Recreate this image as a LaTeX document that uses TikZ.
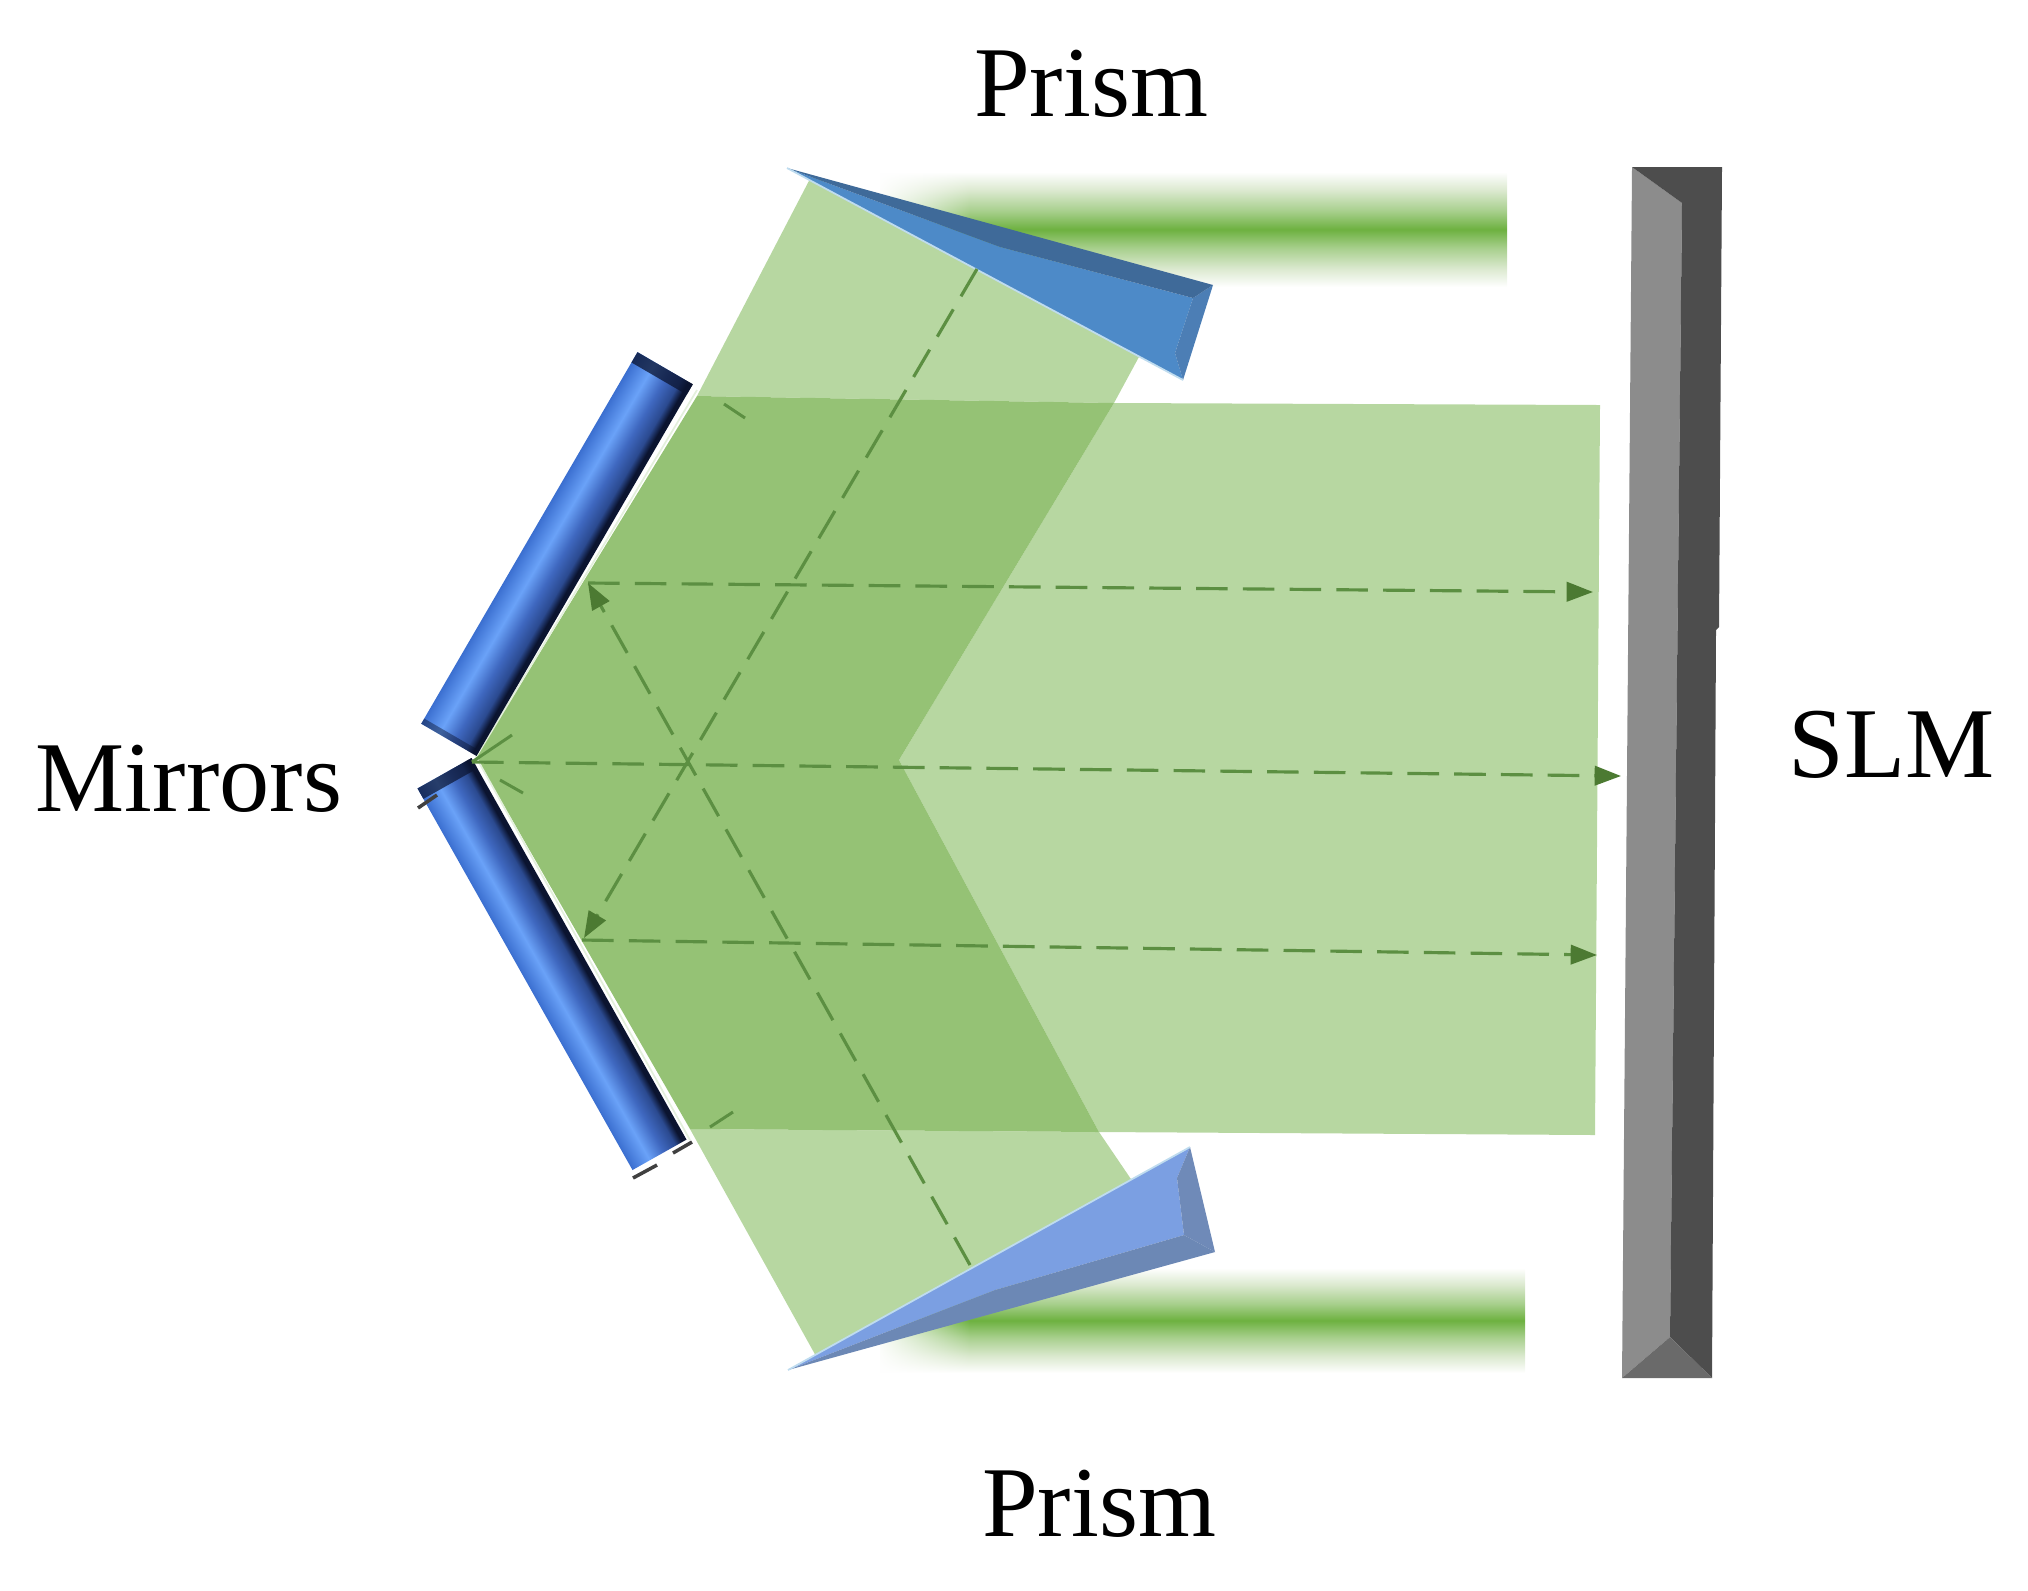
\documentclass[tikz,border=0pt]{standalone}
\usepackage{fontspec}
\usepackage{xcolor}
\setmainfont{Liberation Serif}
\usetikzlibrary{arrows.meta,fadings}
\definecolor{beamlight}{HTML}{B7D7A1}
\definecolor{beamdark}{HTML}{95C275}
\definecolor{raygreen}{HTML}{5C8F42}
\definecolor{tipgreen}{HTML}{4C7A32}
\definecolor{barpale}{HTML}{DBE9CF}
\definecolor{barsoft}{HTML}{A7CF8C}
\definecolor{barmid}{HTML}{6DB140}
\definecolor{halo}{HTML}{BFDCEF}
\definecolor{mirroredge}{HTML}{3B6FD0}
\definecolor{mirrorlit}{HTML}{6AA2F8}
\definecolor{mirrorbody}{HTML}{3F68C0}
\definecolor{mirrorlow}{HTML}{2B4A90}
\definecolor{mirrorblack}{HTML}{0B1430}
\pgfdeclareverticalshading{barfade}{100bp}{color(0bp)=(white); color(25bp)=(white); color(33bp)=(barpale); color(42bp)=(barsoft); color(50bp)=(barmid); color(58bp)=(barsoft); color(67bp)=(barpale); color(75bp)=(white); color(100bp)=(white)}
\pgfdeclarehorizontalshading{mirrorfade}{100bp}{color(0bp)=(mirroredge); color(25bp)=(mirroredge); color(41bp)=(mirrorlit); color(54bp)=(mirrorbody); color(65bp)=(mirrorlow); color(71bp)=(mirrorblack); color(100bp)=(mirrorblack)}
\begin{document}
\begin{tikzpicture}[x=0.01cm,y=-0.01cm,
        label/.style={font=\fontsize{28.5}{32}\selectfont,anchor=base,inner sep=0pt},
        ray/.style={draw=raygreen,line width=0.9pt,dash pattern=on 9pt off 4.3pt},
        rayend/.style={ray,-{Triangle[length=7.5pt,width=5.5pt,color=tipgreen]}},
        stub/.style={draw=black!75,line width=1pt}]
    \useasboundingbox (0,0) rectangle (2028,1590);

    \shade[shading=barfade] (880,172) rectangle (1507,287);
    \shade[shading=barfade] (880,1268) rectangle (1525,1373);
    \fill[white,path fading=east] (875,165) rectangle (970,295);
    \fill[white,path fading=east] (875,1260) rectangle (970,1380);

    \coordinate (ua) at (812,175);
    \coordinate (ub) at (1140,355);
    \coordinate (uc) at (1114,403);
    \coordinate (ud) at (697,396);
    \coordinate (ve) at (1600,405);
    \coordinate (vf) at (1595,1135);
    \coordinate (vg) at (899,760);
    \coordinate (la) at (1099,1132);
    \coordinate (lb) at (1135,1185);
    \coordinate (lc) at (817,1358);
    \coordinate (ld) at (690,1129);
    \coordinate (vm) at (476,757);

    \fill[beamlight] (ua) -- (ub) -- (uc) -- (ud) -- cycle;
    \fill[beamlight] (uc) -- (ve) -- (vf) -- (la) -- (vg) -- cycle;
    \fill[beamlight] (la) -- (lb) -- (lc) -- (ld) -- cycle;
    \fill[beamdark] (ud) -- (uc) -- (vg) -- (la) -- (ld) -- (vm) -- cycle;

    \coordinate (pa) at (787,168);
    \coordinate (pb) at (1213,285);
    \coordinate (pc) at (1183,380);
    \coordinate (pd) at (1193,298);
    \coordinate (pe) at (1175,353);
    \coordinate (pf) at (1000,247);
    \fill[fill={rgb,255:red,77;green,138;blue,200}] (pa) -- (pf) -- (pd) -- (pe) -- (pc) -- cycle;
    \fill[fill={rgb,255:red,76;green,126;blue,181}] (pb) -- (pc) -- (pe) -- (pd) -- cycle;
    \fill[fill={rgb,255:red,63;green,106;blue,153}] (pa) -- (pb) -- (pd) -- (pf) -- cycle;
    \draw[halo,line width=0.5pt] (pa) -- (pc);

    \coordinate (qa) at (788,1370);
    \coordinate (qb) at (1190,1147);
    \coordinate (qc) at (1215,1252);
    \coordinate (qd) at (1177,1178);
    \coordinate (qe) at (1184,1235);
    \coordinate (qf) at (995,1290);
    \fill[fill={rgb,255:red,123;green,159;blue,226}] (qa) -- (qb) -- (qd) -- (qe) -- (qf) -- cycle;
    \fill[fill={rgb,255:red,111;green,138;blue,184}] (qb) -- (qc) -- (qe) -- (qd) -- cycle;
    \fill[fill={rgb,255:red,108;green,136;blue,181}] (qa) -- (qc) -- (qe) -- (qf) -- cycle;
    \draw[halo,line width=0.5pt] (qa) -- (qb);

    \draw[white!75!beamdark,line width=0.5pt] (697,390) -- (vm) -- (690,1140);

    \begin{scope}[transform canvas={shift={(557,554)},rotate=-30.2}]
        \shade[shading=mirrorfade] (-32,-215) rectangle (32,215);
        \fill[mirrorblack,opacity=0.75] (-32,-215) rectangle (32,-203);
        \fill[mirrorblack,opacity=0.45] (-32,209) rectangle (32,215);
    \end{scope}
    \begin{scope}[transform canvas={shift={(552,964)},rotate=29.4}]
        \shade[shading=mirrorfade] (-31,-219) rectangle (31,219);
        \fill[mirrorblack,opacity=0.7] (-31,-219) rectangle (31,-207);
    \end{scope}

    \coordinate (sa) at (1632,167);
    \coordinate (sb) at (1722,167);
    \coordinate (sc) at (1719,627);
    \coordinate (sd) at (1716,630);
    \coordinate (se) at (1712,1378);
    \coordinate (sf) at (1622,1378);
    \coordinate (sg) at (1670,1337);
    \coordinate (sh) at (1682,203);
    \fill[fill={rgb,255:red,140;green,140;blue,140}] (sa) -- (sh) -- (sg) -- (sf) -- cycle;
    \fill[fill={rgb,255:red,77;green,77;blue,77}] (sa) -- (sb) -- (sc) -- (sd) -- (se) -- (sg) -- (sh) -- cycle;
    \fill[fill={rgb,255:red,106;green,106;blue,106}] (sf) -- (sg) -- (se) -- cycle;

    \coordinate (m0) at (472,762);
    \coordinate (m1) at (1621,776);
    \coordinate (t0) at (588,583);
    \coordinate (t1) at (1593,592);
    \coordinate (b0) at (582,940);
    \coordinate (b1) at (1597,955);
    \coordinate (k0) at (970,1265);
    \coordinate (k1) at (977,269);
    \coordinate (k2) at (584,938);
    \draw[rayend] (m0) -- (m1);
    \draw[rayend] (t0) -- (t1);
    \draw[rayend] (b0) -- (b1);
    \draw[rayend] (k0) -- (t0);
    \draw[rayend] (k1) -- (k2);

    \coordinate (n1) at (512,735);
    \coordinate (n2) at (500,780);
    \coordinate (n3) at (523,793);
    \coordinate (n4) at (724,404);
    \coordinate (n5) at (745,418);
    \coordinate (n6) at (710,1127);
    \coordinate (n7) at (733,1112);
    \draw[raygreen,line width=0.85pt] (m0) -- (n1) (n2) -- (n3) (n4) -- (n5) (n6) -- (n7);

    \coordinate (d1) at (633,1178);
    \coordinate (d2) at (657,1165);
    \coordinate (d3) at (673,1153);
    \coordinate (d4) at (692,1142);
    \coordinate (d5) at (418,808);
    \coordinate (d6) at (437,795);
    \draw[stub] (d1) -- (d2) (d3) -- (d4) (d5) -- (d6);

    \node (p1) at (1091,116) [label] {Prism};
    \node (p2) at (1099,1536) [label] {Prism};
    \node (mr) at (189,811) [label] {Mirrors};
    \node (sl) at (1892,777) [label] {SLM};
\end{tikzpicture}
\end{document}
